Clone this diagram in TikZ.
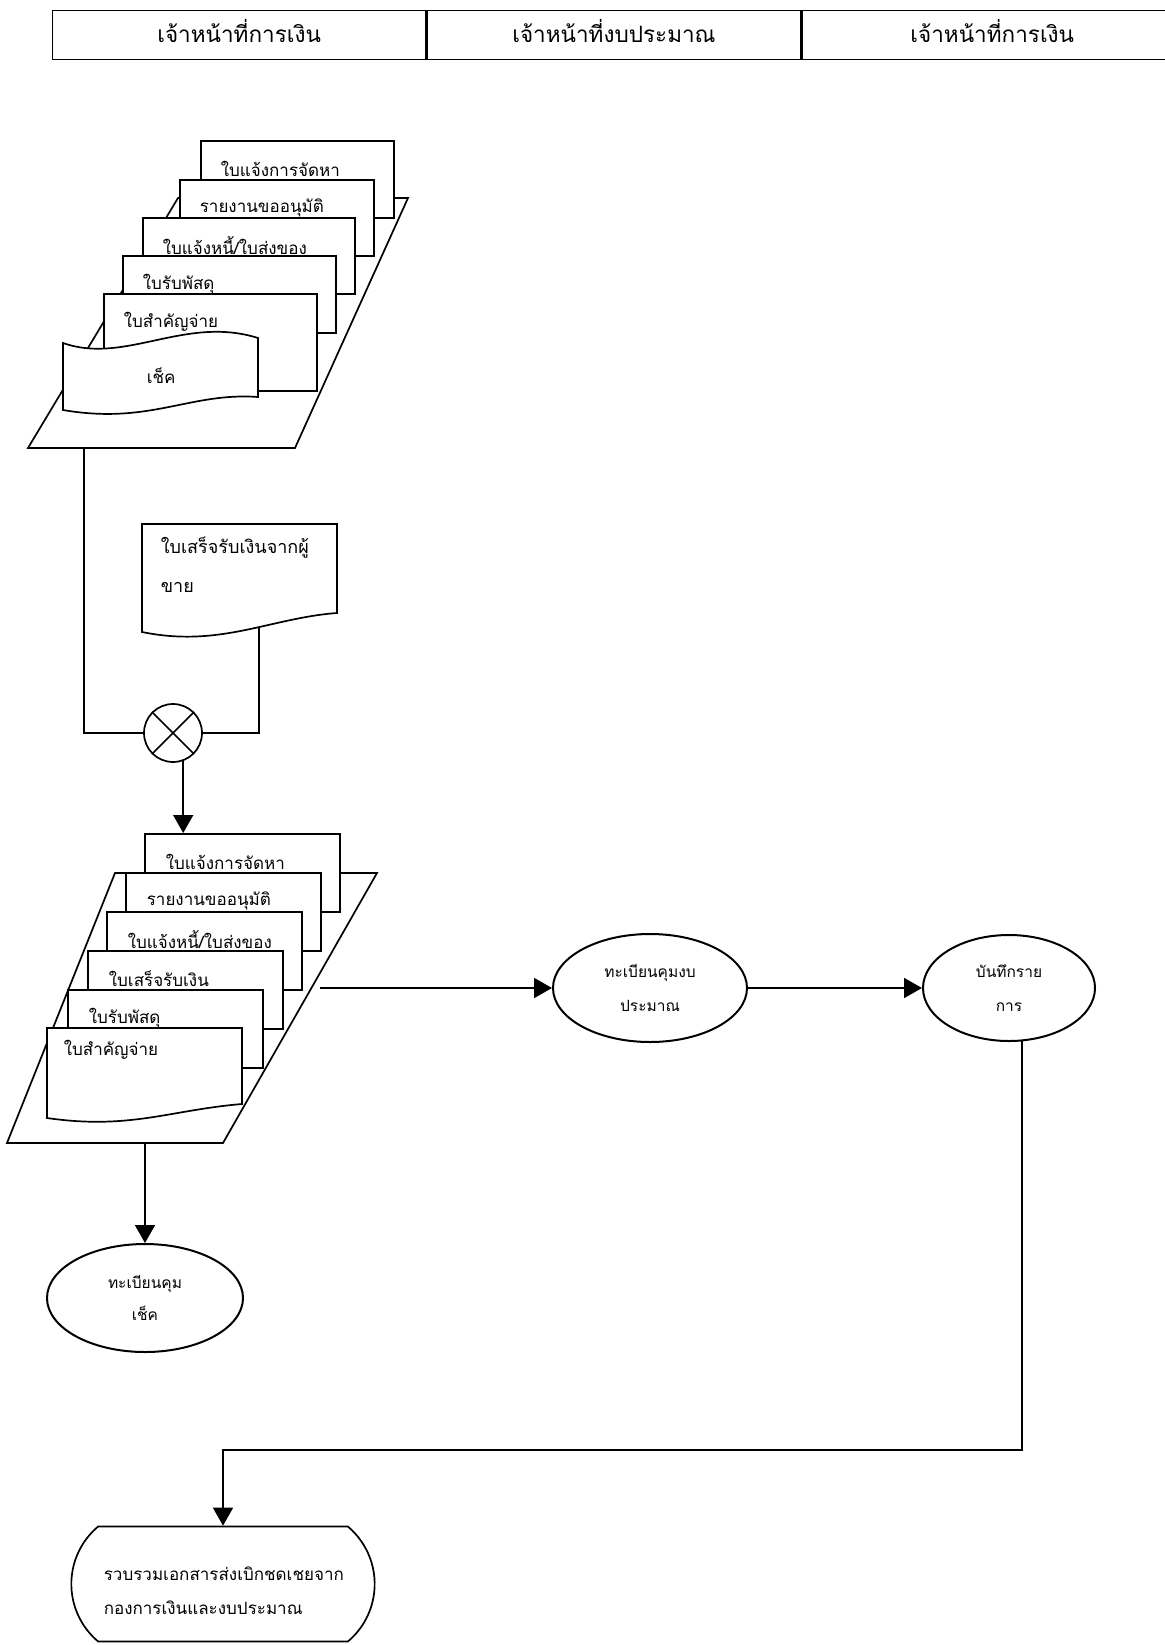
\documentclass[tikz,border=0pt]{standalone}
\usepackage{fontspec}
\newfontfamily\thaifont[Script=Thai]{Loma}
\usetikzlibrary{positioning, arrows.meta, shapes.geometric, shapes.misc}

\tikzset{
  headcell/.style={draw, line width=1.3pt, minimum height=49pt, anchor=north west, text height=20pt, text depth=5pt,
    font=\thaifont\fontsize{22.5}{26}\selectfont},
  docbox/.style={draw, fill=white, anchor=north west},
  doctext/.style={anchor=west, inner sep=0pt, font=\thaifont\fontsize{17}{20}\selectfont},
  procnode/.style={ellipse, draw, fill=white, line width=2pt, align=center, font=\thaifont\fontsize{15.5}{18}\selectfont},
  flowline/.style={-{Triangle[length=18pt, width=20pt]}},
}

\begin{document}
\begin{tikzpicture}[x=1pt, y=-1pt, line width=1.7pt]
  \useasboundingbox (0,0) rectangle (1164,1645);
  % header
  \node[headcell, minimum width=373pt] (h1) at (52,10) {เจ้าหน้าที่การเงิน};
  \node[headcell, minimum width=374pt] (h2) at (h1.north east) {เจ้าหน้าที่งบประมาณ};
  \node[headcell, minimum width=380pt] (h3) at (h2.north east) {เจ้าหน้าที่การเงิน};

  % first pile of documents
  \draw[fill=white] (28,448) -- (295,448) -- (408,198) -- (178,198) -- cycle;
  \foreach \n/\x/\y/\w/\h/\txt in {1/200/140/193/77/{ใบแจ้งการจัดหา}, 2/179/179/194/76/{รายงานขออนุมัติ},
      3/142/217/212/76/{ใบแจ้งหนี้/ใบส่งของ}, 4/122/255/213/77/{ใบรับพัสดุ}, 5/103/293/213/97/{ใบสำคัญจ่าย}} {
    \node[docbox, minimum width=\w pt, minimum height=\h pt] (a\n) at (\x,\y) {};
    \node[doctext] (ta\n) at ([shift={(20,29)}]a\n.north west) {\txt};
  }
  \draw[fill=white] (63,343) .. controls (125,365) and (185,315) .. (258,338) -- (258,397)
    .. controls (190,392) and (150,425) .. (63,410) -- cycle;
  \node[doctext] (tq) at (146,376) {เช็ค};
  \coordinate (p1b) at (84,448);

  % receipt from seller
  \draw[fill=white] (142,524) -- (337,524) -- (337,613) .. controls (270,618) and (220,648) .. (142,632) -- cycle;
  \node[doctext, anchor=north west, align=left, font=\thaifont\fontsize{18}{21}\selectfont] (tr) at (160,536)
    {ใบเสร็จรับเงินจากผู้\\[18pt]ขาย};
  \coordinate (rb) at (259,627);

  \node[circle, draw, minimum size=58pt, inner sep=0pt] (sum) at (173,733) {};
  \draw (sum.45) -- (sum.225) (sum.135) -- (sum.-45);
  \draw (p1b) |- (sum.west);
  \draw (rb) |- (sum.east);

  % second pile of documents
  \draw[fill=white] (7,1143) -- (223,1143) -- (377,873) -- (115,873) -- cycle;
  \foreach \n/\x/\y/\txt in {1/144/833/{ใบแจ้งการจัดหา}, 2/125/872/{รายงานขออนุมัติ}, 3/106/911/{ใบแจ้งหนี้/ใบส่งของ},
      4/87/950/{ใบเสร็จรับเงิน}, 5/67/989/{ใบรับพัสดุ}} {
    \node[docbox, minimum width=195pt, minimum height=78pt] (b\n) at (\x,\y) {};
    \node[doctext] (tb\n) at ([shift={(21,29)}]b\n.north west) {\txt};
  }
  \draw[fill=white] (47,1028) -- (242,1028) -- (242,1104) .. controls (170,1110) and (130,1130) .. (47,1118) -- cycle;
  \node[doctext] (tb6) at (63,1050) {ใบสำคัญจ่าย};
  \draw[flowline] (sum.-70) -- (sum.-70 |- b1.north);
  \coordinate (p2r) at (320,988);
  \coordinate (p2b) at (145,1143);

  % registers and records
  \node[procnode, minimum width=194pt, minimum height=108pt] (e1) at (650,988) {ทะเบียนคุมงบ\\[16pt]ประมาณ};
  \node[procnode, minimum width=172pt, minimum height=106pt] (e2) at (1009,988) {บันทึกราย\\[16pt]การ};
  \node[procnode, minimum width=196pt, minimum height=108pt] (e3) at (145,1298) {ทะเบียนคุม\\[13pt]เช็ค};
  \draw[flowline] (p2r) -- (e1.west);
  \draw[flowline] (e1.east) -- (e2.west);
  \draw[flowline] (p2b) -- (e3.north);

  \node[rounded rectangle, rounded rectangle arc length=100, draw, minimum width=310pt, minimum height=115pt] (t1) at (223,1584) {};
  \node[doctext] (tt1) at (103,1574) {รวบรวมเอกสารส่งเบิกชดเชยจาก};
  \node[doctext] (tt2) at (103,1608) {กองการเงินและงบประมาณ};
  \coordinate (turn) at (1022,1450);
  \draw[flowline] (e2.-76) -- (e2.-76 |- turn) -| (t1.north);
\end{tikzpicture}
\end{document}
